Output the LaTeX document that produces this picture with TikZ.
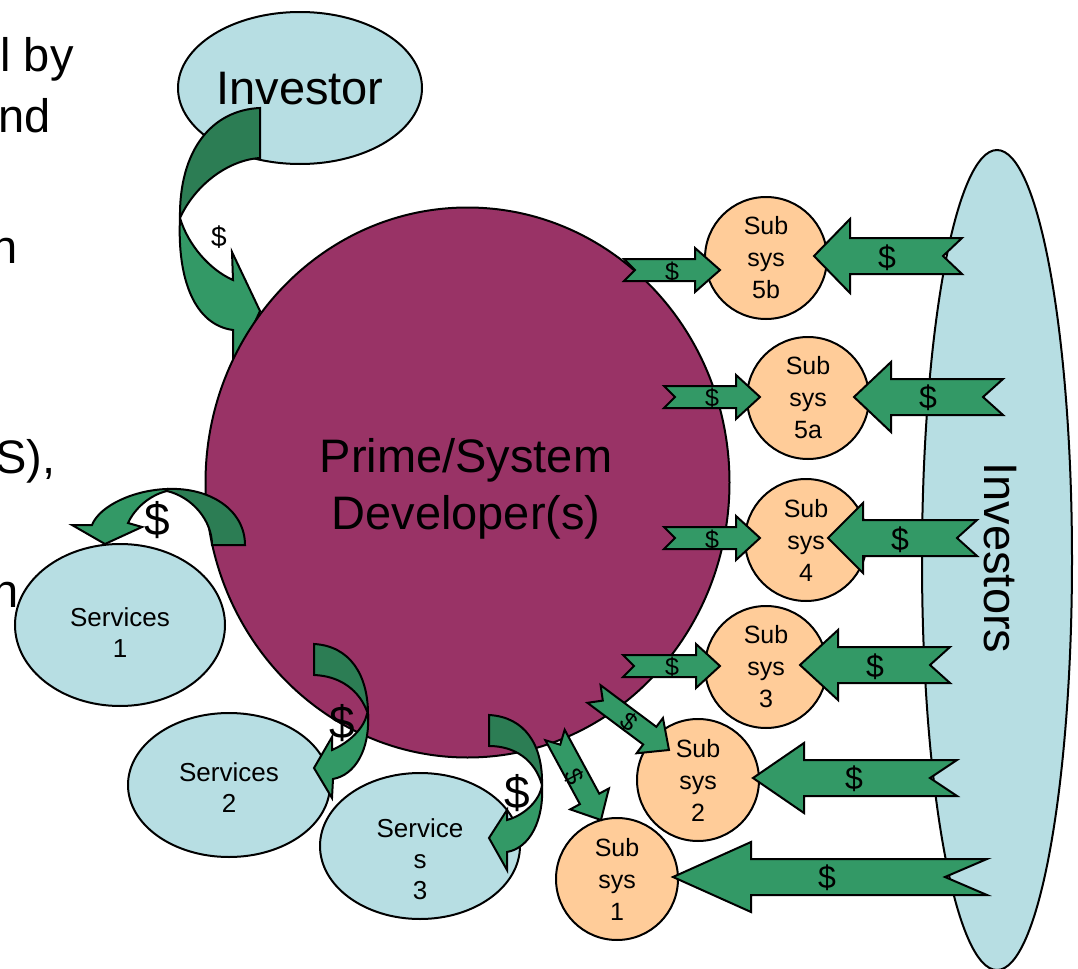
\documentclass[tikz,border=0pt]{standalone}
\usepackage{fontspec}
\setmainfont{Liberation Sans}
\usetikzlibrary{shapes.geometric,calc}
\definecolor{agreen}{RGB}{51,153,102}
\definecolor{dgreen}{RGB}{44,125,84}
\definecolor{plum}{RGB}{153,51,102}
\definecolor{lblue}{RGB}{183,222,227}
\definecolor{peach}{RGB}{255,204,153}
\tikzset{
  outl/.style={draw=black, line width=1pt},
  arrowbody/.style={outl, fill=agreen},
  backbody/.style={outl, fill=dgreen},
  subsys/.style={circle, outl, fill=peach, minimum size=61pt, inner sep=0pt, align=center, font=\fontsize{12.5}{16}\selectfont},
  svc/.style={ellipse, outl, fill=lblue, inner sep=0pt},
  svctxt/.style={align=center, inner sep=0pt, font=\fontsize{13}{15.5}\selectfont},
  bigtxt/.style={inner sep=0pt, font=\fontsize{23.5}{28.5}\selectfont},
  dollarbig/.style={inner sep=0pt, font=\fontsize{16}{16}\selectfont},
  dollarsmall/.style={inner sep=0pt, font=\fontsize{12.5}{12.5}\selectfont},
  dollarsvc/.style={inner sep=0pt, font=\fontsize{23}{23}\selectfont},
}
% from, to, shaft half width, head half width, head length, notch depth
\newcommand\blockarrow[6]{%
  \coordinate (ba-a) at (#1);
  \coordinate (ba-b) at (#2);
  \coordinate (ba-h) at ($(ba-b)!#5!(ba-a)$);
  \coordinate (ba-n) at ($(ba-a)!#6!(ba-b)$);
  \draw[arrowbody] ($(ba-a)!#3!90:(ba-b)$) -- ($(ba-h)!#3!90:(ba-b)$)
    -- ($(ba-h)!#4!90:(ba-b)$) -- (ba-b) -- ($(ba-h)!#4!-90:(ba-b)$)
    -- ($(ba-h)!#3!-90:(ba-b)$) -- ($(ba-a)!#3!-90:(ba-b)$) -- (ba-n) -- cycle;
}
\begin{document}
\begin{tikzpicture}[x=0.5pt,y=-0.5pt]
\useasboundingbox (0,0) rectangle (1078,969);
\fill[white] (0,0) rectangle (1078,969);

% clipped text fragments at the left
\node[bigtxt, anchor=base east] (f1) at (74,71) {l by};
\node[bigtxt, anchor=base east] (f2) at (51,132) {nd};
\node[bigtxt, anchor=base east] (f3) at (18,263) {n};
\node[bigtxt, anchor=base east] (f4) at (56,473) {S),};
\node[bigtxt, anchor=base east] (f5) at (19,607) {h};

% Investor
\node[svc, minimum width=122pt, minimum height=76pt] (inv) at (300,88) {};
\node[bigtxt] (invt) at (300,89) {Investor};

% curved arrow Investor -> developer
\draw[arrowbody] (180,218) .. controls (177,280) and (195,325) .. (233,330) -- (233,370) -- (260,311) -- (232,252) -- (233,280) .. controls (210,270) and (188,245) .. (180,218) -- cycle;
\draw[backbody] (260,108) .. controls (212,110) and (179,150) .. (180,218) .. controls (195,185) and (228,160) .. (260,158) -- cycle;

% developer
\node[ellipse, outl, fill=plum, minimum width=262pt, minimum height=275pt, inner sep=0pt] (dev) at (467.5,482.5) {};
\node[bigtxt, align=center] (devt) at (466,489) {Prime/System\\Developer(s)};

% Investors
\node[ellipse, outl, fill=lblue, rotate=-90, minimum width=410pt, minimum height=75pt, inner sep=0pt] (invs) at (997,560) {};
\node[bigtxt, rotate=-90] (invst) at (1000,558) {Investors};

% services
\node[svc, minimum width=105pt, minimum height=81pt] (s1) at (120,625) {};
\node[svctxt] (s1t) at (120,633) {Services\\1};
\node[svc, minimum width=101pt, minimum height=72pt] (s2) at (229,785) {};
\node[svctxt] (s2t) at (229,788) {Services\\2};
\node[svc, minimum width=100pt, minimum height=73pt] (s3) at (420,846) {};
\node[svctxt] (s3t) at (420,859) {Service\\s\\3};

% subsystems
\node[subsys] (ss5b) at (766,258) {Sub\\sys\\5b};
\node[subsys] (ss5a) at (808,398) {Sub\\sys\\5a};
\node[subsys] (ss4) at (806,540) {Sub\\sys\\4};
\node[subsys] (ss3) at (766,667) {Sub\\sys\\3};
\node[subsys] (ss2) at (698,780) {Sub\\sys\\2};
\node[subsys] (ss1) at (617,879) {Sub\\sys\\1};

% curved arrows developer -> services
\draw[arrowbody] (167,489) .. controls (135,490) and (100,505) .. (92,525) -- (72,525) -- (105,544) -- (142,527) -- (128,523) .. controls (135,508) and (150,495) .. (167,491) -- cycle;
\draw[backbody] (167,489) .. controls (210,487) and (245,510) .. (245,545) -- (212,545) .. controls (212,520) and (192,497) .. (167,491) -- cycle;

\draw[arrowbody] (368,714) .. controls (370,750) and (355,775) .. (333,779) -- (332,798) -- (314,768) -- (332,737) -- (332,750) .. controls (350,742) and (364,728) .. (367,714) -- cycle;
\draw[backbody] (314,644) .. controls (350,646) and (368,675) .. (368,714) .. controls (360,690) and (340,676) .. (314,675) -- cycle;

\draw[arrowbody] (542,785) .. controls (544,820) and (530,848) .. (507,852) -- (507,870) -- (489,838) -- (507,810) -- (507,820) .. controls (525,815) and (540,800) .. (542,785) -- cycle;
\draw[backbody] (489,715) .. controls (525,717) and (543,745) .. (542,785) .. controls (535,760) and (515,746) .. (489,746) -- cycle;

% arrow end points
\coordinate (r5b-s) at (962,256); \coordinate (r5b-e) at (814,256);
\coordinate (r5a-s) at (1003,397); \coordinate (r5a-e) at (854,397);
\coordinate (r4-s) at (977,538); \coordinate (r4-e) at (828,538);
\coordinate (r3-s) at (950,665); \coordinate (r3-e) at (800,665);
\coordinate (r2-s) at (957,778); \coordinate (r2-e) at (753,778);
\coordinate (r1-s) at (987,877); \coordinate (r1-e) at (673,877);
\coordinate (l5b-s) at (624,270); \coordinate (l5b-e) at (720,270);
\coordinate (l5a-s) at (664,397); \coordinate (l5a-e) at (760,397);
\coordinate (l4-s) at (664,538); \coordinate (l4-e) at (760,538);
\coordinate (l3-s) at (623,666); \coordinate (l3-e) at (720,666);
\coordinate (l2-s) at (594,694); \coordinate (l2-e) at (669,750);
\coordinate (l1-s) at (555,735); \coordinate (l1-e) at (601,820);

% investors -> subsystems
\blockarrow{r5b-s}{r5b-e}{9pt}{18.5pt}{18pt}{9.5pt}
\blockarrow{r5a-s}{r5a-e}{9pt}{17.5pt}{18.5pt}{10pt}
\blockarrow{r4-s}{r4-e}{9pt}{17.5pt}{17.5pt}{10pt}
\blockarrow{r3-s}{r3-e}{9pt}{17.5pt}{19pt}{10pt}
\blockarrow{r2-s}{r2-e}{9pt}{17.5pt}{25.5pt}{13.5pt}
\blockarrow{r1-s}{r1-e}{9pt}{17.5pt}{39pt}{21pt}

% developer -> subsystems
\blockarrow{l5b-s}{l5b-e}{5.5pt}{11pt}{12.5pt}{5.5pt}
\blockarrow{l5a-s}{l5a-e}{5.5pt}{11pt}{12pt}{5.5pt}
\blockarrow{l4-s}{l4-e}{5.5pt}{11pt}{12pt}{5.5pt}
\blockarrow{l3-s}{l3-e}{5.5pt}{11pt}{12pt}{5.5pt}
\blockarrow{l2-s}{l2-e}{5.5pt}{11pt}{12pt}{5.5pt}
\blockarrow{l1-s}{l1-e}{5.5pt}{11pt}{12pt}{5.5pt}

% dollar labels
\node[dollarbig] (d5b) at (887,258) {\$};
\node[dollarbig] (d5a) at (928,398) {\$};
\node[dollarbig] (d4) at (900,540) {\$};
\node[dollarbig] (d3) at (875,667) {\$};
\node[dollarbig] (d2) at (854,779) {\$};
\node[dollarbig] (d1) at (827,878) {\$};
\node[dollarsmall] (e5b) at (672,272) {\$};
\node[dollarsmall] (e5a) at (712,398) {\$};
\node[dollarsmall] (e4) at (712,540) {\$};
\node[dollarsmall] (e3) at (672,667) {\$};
\node[dollarsmall, rotate=-37] (e2) at (629,722) {\$};
\node[dollarsmall, rotate=-62] (e1) at (574,777) {\$};
\node[dollarsvc] (v1) at (157,520) {\$};
\node[dollarsvc] (v2) at (342,723) {\$};
\node[dollarsvc] (v3) at (517,793) {\$};
\node[inner sep=0pt, font=\fontsize{14}{14}\selectfont] (vi) at (219,237) {\$};
\end{tikzpicture}
\end{document}
